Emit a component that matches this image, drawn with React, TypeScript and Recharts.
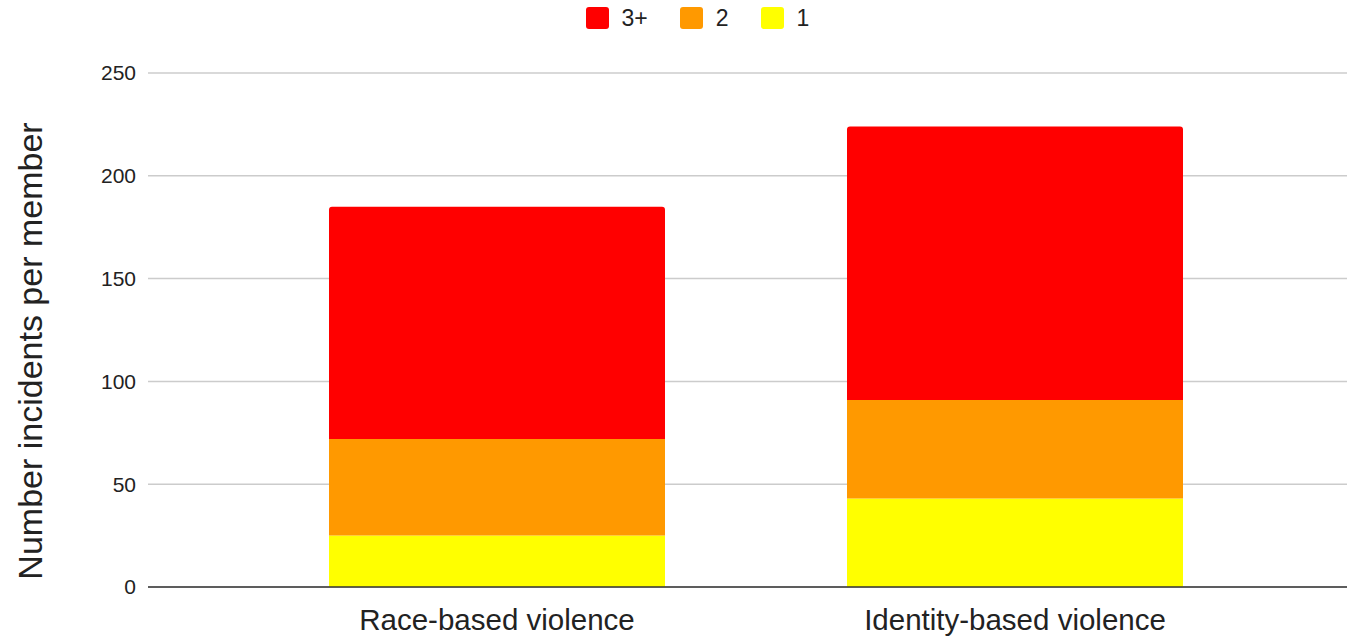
import React from "react";
import {
  BarChart,
  Bar,
  XAxis,
  YAxis,
  CartesianGrid,
  Legend,
} from "recharts";

const categories = ["Race-based violence", "Identity-based violence"];
const oneIncident = [25, 43];
const twoIncidents = [47, 48];
const threePlus = [113, 133];
const yTicks = [0, 50, 100, 150, 200, 250];

const series = [
  { key: "three", name: "3+", color: "#ff0000" },
  { key: "two", name: "2", color: "#ff9900" },
  { key: "one", name: "1", color: "#ffff00" },
];

const data = categories.map((name, i) => ({
  name,
  one: oneIncident[i],
  two: twoIncidents[i],
  three: threePlus[i],
}));

const FONT = "'Liberation Sans', Arial, sans-serif";

const TopLegend: React.FC<any> = () => (
  <div
    style={{
      display: "flex",
      justifyContent: "center",
      alignItems: "center",
      height: 36,
      paddingLeft: 46,
      fontFamily: FONT,
      fontSize: 23,
      color: "#222",
    }}
  >
    {series.map((s, i) => (
      <div
        key={s.key}
        style={{
          display: "flex",
          alignItems: "center",
          marginLeft: i === 0 ? 0 : 32,
        }}
      >
        <span
          style={{
            display: "inline-block",
            width: 23,
            height: 22,
            borderRadius: 3,
            background: s.color,
            marginRight: 13,
          }}
        />
        <span>{s.name}</span>
      </div>
    ))}
  </div>
);

const YLabel: React.FC<any> = () => (
  <text
    x={42}
    y={351}
    transform="rotate(-90, 42, 351)"
    textAnchor="middle"
    fontFamily={FONT}
    fontSize={34}
    fill="#222"
  >
    Number incidents per member
  </text>
);

export default function App() {
  return (
    <div style={{ position: "absolute", left: 0, top: 0, background: "#fff" }}>
      <BarChart
        width={1349}
        height={639}
        data={data}
        margin={{ top: 37, right: 2, bottom: 0, left: 0 }}
      >
        <Legend
          verticalAlign="top"
          align="center"
          content={<TopLegend />}
          wrapperStyle={{ top: 0, left: 0, width: 1349 }}
        />
        <CartesianGrid vertical={false} stroke="#cccccc" strokeWidth={1.5} />
        <XAxis
          dataKey="name"
          height={52}
          padding={{ left: 90, right: 73 }}
          tickLine={false}
          tickSize={0}
          tickMargin={22}
          axisLine={{ stroke: "#333333", strokeWidth: 1.5 }}
          tick={{ fontFamily: FONT, fontSize: 29.5, fill: "#222" }}
        />
        <YAxis
          width={148}
          domain={[0, 250]}
          ticks={yTicks}
          interval={0}
          axisLine={false}
          tickLine={false}
          tickSize={0}
          tickMargin={12}
          tick={{ fontFamily: FONT, fontSize: 21, fill: "#222" }}
          label={<YLabel />}
        />
        <Bar
          dataKey="one"
          name="1"
          stackId="a"
          fill="#ffff00"
          barSize={336}
          isAnimationActive={false}
        />
        <Bar
          dataKey="two"
          name="2"
          stackId="a"
          fill="#ff9900"
          barSize={336}
          isAnimationActive={false}
        />
        <Bar
          dataKey="three"
          name="3+"
          stackId="a"
          fill="#ff0000"
          barSize={336}
          radius={[3, 3, 0, 0]}
          isAnimationActive={false}
        />
      </BarChart>
    </div>
  );
}
